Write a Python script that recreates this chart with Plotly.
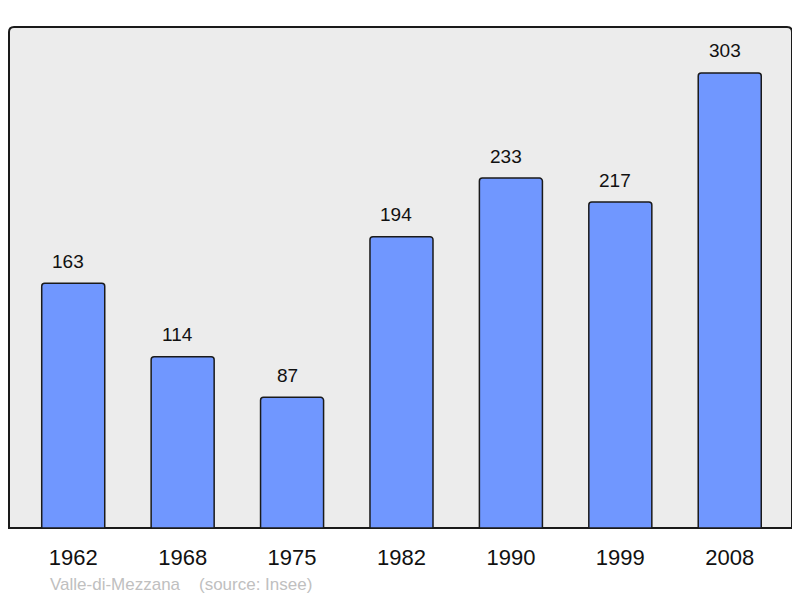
import plotly.graph_objects as go

years = ["1962", "1968", "1975", "1982", "1990", "1999", "2008"]
population = [163, 114, 87, 194, 233, 217, 303]
source_text = "Valle-di-Mezzana    (source: Insee)"

# page body has an 8px default margin; compensate
OFF = 8
W, H = 800 - OFF, 598 - OFF
L, R, T, B = 9 - OFF, 8, 27 - OFF, 70
pw, ph = W - L - R, H - T - B

xs = list(range(len(years)))

fig = go.Figure()
fig.add_trace(go.Bar(
    x=xs, y=population, width=0.576,
    marker=dict(color="#7097ff", line=dict(color="#1a1a1a", width=1.5)),
    hoverinfo="skip",
))

for x, v in zip(xs, population):
    fig.add_annotation(x=x, y=v, text=str(v), showarrow=False, yanchor="middle",
                       yshift=22, xshift=-5,
                       font=dict(size=19, color="#111", family="Liberation Sans"))

fig.add_annotation(x=(48 - 9) / pw, y=-(584 - 528) / ph, xref="paper", yref="paper",
                   text=source_text, showarrow=False, xanchor="left", yanchor="middle",
                   font=dict(size=17, color="#c0c0c0", family="Liberation Sans"))

# rounded frame
rx, ry = 5 / pw, 5 / ph
path = (f"M {rx},1 L {1-rx},1 Q 1,1 1,{1-ry} L 1,0 L 0,0 L 0,{1-ry} Q 0,1 {rx},1 Z")
fig.add_shape(type="path", path=path, xref="paper", yref="paper",
              line=dict(color="#1a1a1a", width=2), fillcolor="#ececec", layer="below")

fig.update_layout(
    width=W, height=H,
    margin=dict(l=L, r=R, t=T, b=B),
    paper_bgcolor="white", plot_bgcolor="rgba(0,0,0,0)",
    showlegend=False,
    barcornerradius=3,
    xaxis=dict(range=[-0.587, 6.569], tickmode="array", tickvals=xs, ticktext=years,
               showgrid=False, zeroline=False, showline=False, ticks="",
               tickfont=dict(size=22, color="#111", family="Liberation Sans"),
               ticklabelstandoff=14, fixedrange=True),
    yaxis=dict(range=[0, 333.6], visible=False, fixedrange=True),
)

fig.write_html("out.html")
